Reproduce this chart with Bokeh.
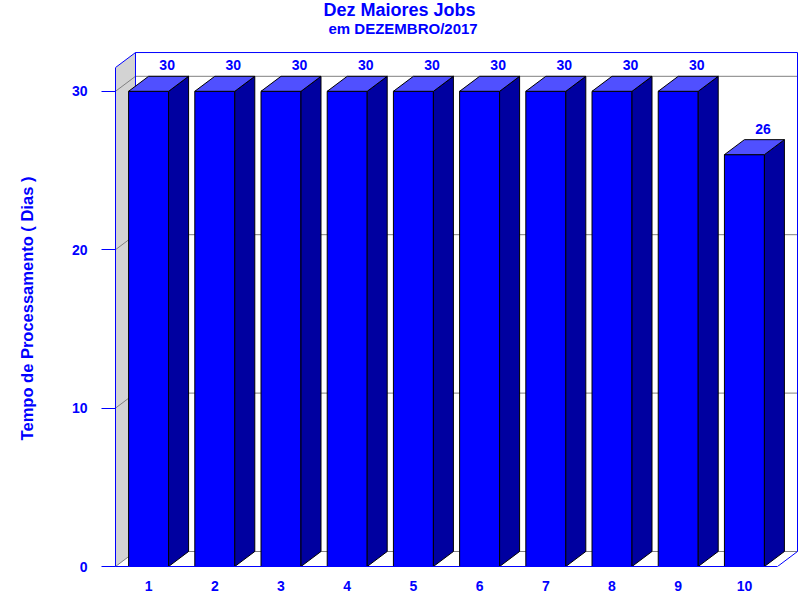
from bokeh.plotting import figure
from bokeh.models import Range1d, FixedTicker, Title, ColumnDataSource
from bokeh.embed import file_html
from bokeh.resources import INLINE
from bokeh.core.properties import value

# ---- data ----
categories = ["1", "2", "3", "4", "5", "6", "7", "8", "9", "10"]
values = [30, 30, 30, 30, 30, 30, 30, 30, 30, 26]
y_ticks = [0, 10, 20, 30]
title_text = "Dez Maiores Jobs"
subtitle_text = "em DEZEMBRO/2017"
ylabel_text = "Tempo de Processamento ( Dias )"

# ---- style / geometry ----
DX = 0.302      # 3D depth in x (data units)
DY = 0.947      # 3D depth in y (data units)
HW = 0.302      # half bar width
YTOP = 31.5     # top of front plane
BLUE = "#0000FF"
SIDE = "#0000A0"
TOPC = "#5050FF"
WALL = "#D3D3D3"
GRID = "#808080"
FONT = "Liberation Sans"

n = len(categories)
pos = list(range(1, n + 1))
x0, x1 = 0.5, n + 0.5

p = figure(width=800, height=600,
           x_range=Range1d(x0, x1 + DX + 0.03), y_range=Range1d(0, YTOP + DY + 0.129),
           output_backend="svg", toolbar_location=None,
           min_border_left=115, min_border_right=1, min_border_top=50, min_border_bottom=34)
p.outline_line_color = None
p.grid.visible = False
p.background_fill_color = "white"
p.border_fill_color = "white"

# titles (subtitle closest to the frame)
p.add_layout(Title(text=subtitle_text, align="left", offset=213, standoff=23,
                   vertical_align="top",
                   text_font=FONT, text_font_style="bold", text_font_size="15px",
                   text_color=BLUE), "above")
p.add_layout(Title(text=title_text, align="left", offset=208, standoff=-23,
                   vertical_align="bottom",
                   text_font=FONT, text_font_style="bold", text_font_size="18px",
                   text_color=BLUE), "above")

# axes
p.yaxis.ticker = FixedTicker(ticks=y_ticks)
p.yaxis.bounds = (0, YTOP)
p.yaxis.axis_line_color = BLUE
p.yaxis.major_tick_line_color = BLUE
p.yaxis.major_tick_out = 14
p.yaxis.major_tick_in = 0
p.yaxis.minor_tick_line_color = None
p.yaxis.major_label_standoff = 14
p.yaxis.major_label_text_font = FONT
p.yaxis.major_label_text_font_style = "bold"
p.yaxis.major_label_text_font_size = "14px"
p.yaxis.major_label_text_color = BLUE
p.yaxis.axis_label = ylabel_text
p.yaxis.axis_label_standoff = 33
p.yaxis.axis_label_text_font = FONT
p.yaxis.axis_label_text_font_style = "bold"
p.yaxis.axis_label_text_font_size = "16.5px"
p.yaxis.axis_label_text_color = BLUE

p.xaxis.ticker = FixedTicker(ticks=pos)
p.xaxis.major_label_overrides = {i: c for i, c in zip(pos, categories)}
p.xaxis.bounds = (x0, x1)
p.xaxis.axis_line_color = BLUE
p.xaxis.major_tick_line_color = None
p.xaxis.major_tick_out = 0
p.xaxis.major_tick_in = 0
p.xaxis.minor_tick_line_color = None
p.xaxis.major_label_standoff = 14
p.xaxis.major_label_text_font = FONT
p.xaxis.major_label_text_font_style = "bold"
p.xaxis.major_label_text_font_size = "14px"
p.xaxis.major_label_text_color = BLUE

# left side wall
p.patch([x0, x0 + DX, x0 + DX, x0], [0, DY, YTOP + DY, YTOP], fill_color=WALL, line_color=None)

# grid lines on back wall and side wall
p.segment(x0=[x0 + DX] * len(y_ticks), y0=[v + DY for v in y_ticks],
          x1=[x1 + DX] * len(y_ticks), y1=[v + DY for v in y_ticks], line_color=GRID, line_width=1)
p.segment(x0=[x0] * len(y_ticks), y0=y_ticks,
          x1=[x0 + DX] * len(y_ticks), y1=[v + DY for v in y_ticks], line_color=GRID, line_width=1)

# blue box edges
bx0 = [x0, x0 + DX, x1 + DX, x0 + DX, x1]
by0 = [YTOP, YTOP + DY, DY, DY, 0]
bx1 = [x0 + DX, x1 + DX, x1 + DX, x0 + DX, x1 + DX]
by1 = [YTOP + DY, YTOP + DY, YTOP + DY, YTOP + DY, DY]
p.segment(x0=bx0, y0=by0, x1=bx1, y1=by1, line_color=BLUE, line_width=1)

# bars: front faces
p.quad(left=[i - HW for i in pos], right=[i + HW for i in pos], bottom=0, top=values,
       fill_color=BLUE, line_color="black", line_width=1)
# side faces
side_xs = [[i + HW, i + HW + DX, i + HW + DX, i + HW] for i in pos]
side_ys = [[0, DY, v + DY, v] for v in values]
p.patches(side_xs, side_ys, fill_color=SIDE, line_color="black", line_width=1)
# top faces
top_xs = [[i - HW, i - HW + DX, i + HW + DX, i + HW] for i in pos]
top_ys = [[v, v + DY, v + DY, v] for v in values]
p.patches(top_xs, top_ys, fill_color=TOPC, line_color="black", line_width=1)

# value labels
src = ColumnDataSource(dict(x=[i + 0.28 for i in pos], y=[v + DY for v in values],
                            t=[str(v) for v in values]))
p.text(x="x", y="y", text="t", source=src, y_offset=-11, text_align="center",
       text_baseline="alphabetic", text_font=value(FONT), text_font_style="bold",
       text_font_size="14px", text_color=BLUE)

open("out.html", "w").write(file_html(p, INLINE))
